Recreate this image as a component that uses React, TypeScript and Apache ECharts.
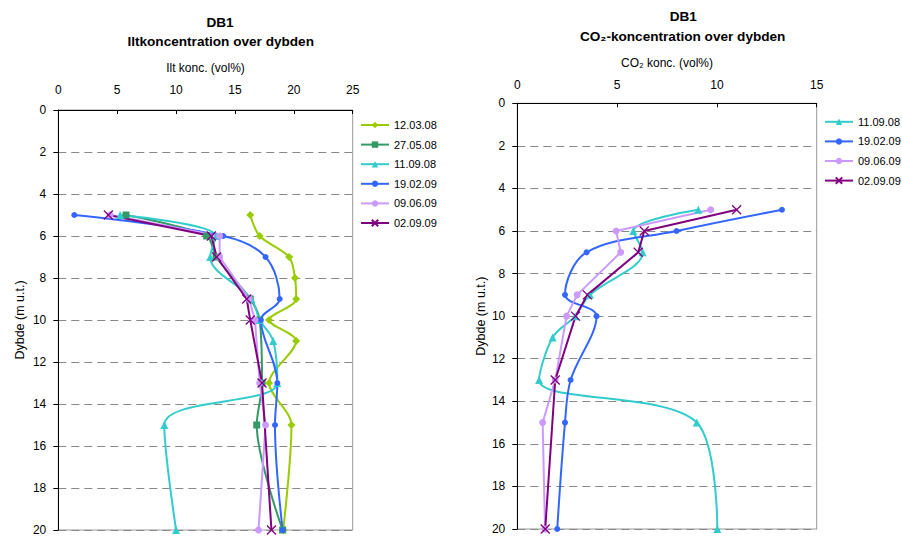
import React, { useEffect, useRef } from "react";
import * as echarts from "echarts";

// ---------- Data ----------
// Left chart: Ilt (O2) concentration (vol%) vs depth (m u.t.)
const o2_120308_val = [16.3, 17.1, 19.6, 20.1, 20.2, 17.9, 20.2, 17.9, 19.8, 19.1];
const o2_120308_dep = [5, 6, 7, 8, 9, 10, 11, 13, 15, 20];

const o2_270508_val = [5.75, 12.6, 13.4, 16.3, 17.1, 17.3, 16.85, 19.05];
const o2_270508_dep = [5, 6, 7, 9, 10, 13, 15, 20];

const o2_110908_val = [5.25, 13.4, 12.9, 16.4, 17.1, 18.25, 18.6, 9.0, 10.0];
const o2_110908_dep = [5, 6, 7, 9, 10, 11, 13, 15, 20];

const o2_190209_val = [1.36, 14.0, 17.6, 18.8, 17.2, 18.6, 18.4, 19.05];
const o2_190209_dep = [5, 6, 7, 9, 10, 13, 15, 20];

const o2_090609_val = [4.4, 13.7, 13.7, 16.2, 16.7, 17.1, 17.6, 17.0];
const o2_090609_dep = [5, 6, 7, 9, 10, 13, 15, 20];

const o2_020909_val = [4.25, 13.0, 13.45, 16.0, 16.3, 17.3, 18.1];
const o2_020909_dep = [5, 6, 7, 9, 10, 13, 20];

// Right chart: CO2 concentration (vol%) vs depth
const co2_110908_val = [9.07, 5.81, 6.28, 3.64, 2.9, 1.77, 1.09, 8.99, 10.02];
const co2_110908_dep = [5, 6, 7, 9, 10, 11, 13, 15, 20];

const co2_190209_val = [13.26, 7.98, 3.47, 2.39, 3.97, 2.67, 2.39, 2.0];
const co2_190209_dep = [5, 6, 7, 9, 10, 13, 15, 20];

const co2_090609_val = [9.69, 4.95, 5.18, 3.0, 2.47, 1.9, 1.27, 1.39];
const co2_090609_dep = [5, 6, 7, 9, 10, 13, 15, 20];

const co2_020909_val = [10.99, 6.36, 6.06, 3.51, 2.92, 1.9, 1.4];
const co2_020909_dep = [5, 6, 7, 9, 10, 13, 20];

const legendLeft = ["12.03.08", "27.05.08", "11.09.08", "19.02.09", "09.06.09", "02.09.09"];
const legendRight = ["11.09.08", "19.02.09", "09.06.09", "02.09.09"];

const FONT = '"Liberation Sans", Arial, sans-serif';
const X_SYM = "path://M0,0L10,10M10,0L0,10";

const styles: Record<string, any> = {
  "12.03.08": { color: "#99CC00", symbol: "diamond", size: 8, smooth: 0.3 },
  "27.05.08": { color: "#339966", symbol: "rect", size: 7, smooth: 0.3 },
  "11.09.08": { color: "#33CCCC", symbol: "triangle", size: 8, smooth: 0.35 },
  "19.02.09": { color: "#3366FF", symbol: "circle", size: 6, smooth: 0.35 },
  "09.06.09": { color: "#CC99FF", symbol: "circle", size: 7, smooth: false },
  "02.09.09": { color: "#800080", symbol: X_SYM, size: 9, smooth: false },
};

function mk(name: string, vals: number[], deps: number[], idx: number) {
  const s = styles[name];
  const isX = s.symbol === X_SYM;
  return {
    name,
    type: "line",
    xAxisIndex: idx,
    yAxisIndex: idx,
    data: vals.map((v, i) => [v, deps[i]]),
    smooth: s.smooth,
    symbol: s.symbol,
    symbolSize: s.size,
    showSymbol: true,
    lineStyle: { color: s.color, width: 2 },
    itemStyle: isX
      ? { color: s.color, borderColor: s.color, borderWidth: 1.3 }
      : { color: s.color, borderWidth: 0 },
    emphasis: { disabled: true },
    z: 3,
  };
}

function xAxisCfg(idx: number, max: number, interval: number, name: string, nameGap: number, margin: number) {
  return {
    gridIndex: idx,
    type: "value",
    position: "top",
    min: 0,
    max,
    interval,
    name,
    nameLocation: "middle",
    nameGap,
    nameTextStyle: { fontSize: 12, color: "#000", fontFamily: FONT },
    axisLine: { show: true, onZero: false, lineStyle: { color: "#000", width: 1 } },
    axisTick: { show: true, inside: true, length: 4, lineStyle: { color: "#000" } },
    axisLabel: { fontSize: 12, color: "#000", margin, fontFamily: FONT },
    splitLine: { show: false },
  };
}

function yAxisCfg(idx: number, nameGap: number) {
  return {
    gridIndex: idx,
    type: "value",
    inverse: true,
    min: 0,
    max: 20,
    interval: 2,
    name: "Dybde (m u.t.)",
    nameLocation: "middle",
    nameGap,
    nameRotate: 90,
    nameTextStyle: { fontSize: 12.5, color: "#000", fontFamily: FONT },
    axisLine: { show: true, onZero: false, lineStyle: { color: "#000", width: 1 } },
    axisTick: { show: true, inside: false, length: 5, lineStyle: { color: "#000" } },
    axisLabel: { fontSize: 12, color: "#000", margin: 12, fontFamily: FONT },
    splitLine: { show: true, lineStyle: { color: "#888", width: 1, type: [8, 5] } },
  };
}

function legendCfg(left: number, top: number, data: string[]) {
  return {
    orient: "vertical",
    left,
    top,
    padding: 0,
    data,
    itemWidth: 28,
    itemHeight: 8,
    itemGap: 6,
    selectedMode: false,
    textStyle: { fontSize: 11, color: "#000", fontFamily: FONT, lineHeight: 13.6 },
  };
}

export default function App() {
  const ref = useRef<HTMLDivElement>(null);

  useEffect(() => {
    if (!ref.current) return;
    const chart = echarts.init(ref.current, undefined, { renderer: "svg" });
    const titleFont = `bold 13.6px ${FONT}`;
    const option: any = {
      animation: false,
      backgroundColor: "#fff",
      textStyle: { fontFamily: FONT },
      grid: [
        { left: 58.3, top: 110, width: 294.4, height: 423.3, show: true, borderColor: "#999", borderWidth: 1, backgroundColor: "transparent" },
        { left: 517.3, top: 103.3, width: 299.4, height: 425.7, show: true, borderColor: "#999", borderWidth: 1, backgroundColor: "transparent" },
      ],
      xAxis: [
        xAxisCfg(0, 25, 5, "Ilt konc. (vol%)", 36, 14),
        xAxisCfg(1, 15, 5, "CO\u2082 konc. (vol%)", 34, 12),
      ],
      yAxis: [yAxisCfg(0, 32), yAxisCfg(1, 30)],
      legend: [legendCfg(360, 118.2, legendLeft), legendCfg(824, 115, legendRight)],
      graphic: [
        { type: "text", x: 220, y: 22.7, style: { text: "DB1", font: titleFont, fill: "#000", align: "center", verticalAlign: "middle" } },
        { type: "text", x: 220.7, y: 41.3, style: { text: "Iltkoncentration over dybden", font: titleFont, fill: "#000", align: "center", verticalAlign: "middle" } },
        { type: "text", x: 683.3, y: 16, style: { text: "DB1", font: titleFont, fill: "#000", align: "center", verticalAlign: "middle" } },
        { type: "text", x: 682.7, y: 36, style: { text: "CO\u2082-koncentration over dybden", font: titleFont, fill: "#000", align: "center", verticalAlign: "middle" } },
      ],
      series: [
        mk("12.03.08", o2_120308_val, o2_120308_dep, 0),
        mk("27.05.08", o2_270508_val, o2_270508_dep, 0),
        mk("11.09.08", o2_110908_val, o2_110908_dep, 0),
        mk("19.02.09", o2_190209_val, o2_190209_dep, 0),
        mk("09.06.09", o2_090609_val, o2_090609_dep, 0),
        mk("02.09.09", o2_020909_val, o2_020909_dep, 0),
        mk("11.09.08", co2_110908_val, co2_110908_dep, 1),
        mk("19.02.09", co2_190209_val, co2_190209_dep, 1),
        mk("09.06.09", co2_090609_val, co2_090609_dep, 1),
        mk("02.09.09", co2_020909_val, co2_020909_dep, 1),
      ],
    };
    chart.setOption(option);
    return () => chart.dispose();
  }, []);

  return (
    <div
      ref={ref}
      style={{ position: "fixed", left: 0, top: 0, width: 902, height: 536 }}
    />
  );
}
